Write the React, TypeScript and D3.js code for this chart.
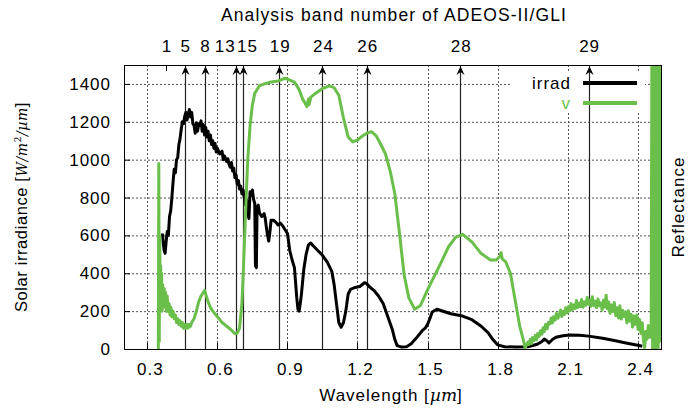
import React, { useEffect, useRef } from "react";
import * as d3 from "d3";

const width = 689;
const height = 411;
const margin = { top: 65, right: 28, bottom: 62, left: 124 };

const xTicks = [0.3, 0.6, 0.9, 1.2, 1.5, 1.8, 2.1, 2.4];
const yTicks = [0, 200, 400, 600, 800, 1000, 1200, 1400];

// GLI analysis bands: number and centre wavelength [um]
const bandNumbers = [1, 5, 8, 13, 15, 19, 24, 26, 28, 29];
const bandWavelengths = [0.38, 0.46, 0.545, 0.678, 0.71, 0.865, 1.05, 1.24, 1.64, 2.19];

// solar irradiance [W/m2/um]
const irrad: [number, number][] = [
  [0.365, 610], [0.368, 560], [0.372, 520], [0.376, 505], [0.38, 560], [0.385, 620], [0.39, 600],
  [0.395, 700], [0.4, 730], [0.405, 800], [0.41, 880], [0.415, 950], [0.42, 930], [0.425, 1000],
  [0.43, 1010], [0.435, 1080], [0.44, 1110], [0.445, 1160], [0.45, 1200], [0.455, 1190], [0.46, 1230],
  [0.465, 1250], [0.47, 1210], [0.475, 1240], [0.48, 1265], [0.485, 1225], [0.49, 1250], [0.495, 1190],
  [0.5, 1180], [0.505, 1140], [0.51, 1195], [0.515, 1150], [0.52, 1190], [0.525, 1180], [0.53, 1205],
  [0.535, 1150], [0.54, 1185], [0.545, 1130], [0.55, 1170], [0.555, 1120], [0.56, 1150], [0.565, 1100],
  [0.57, 1130], [0.575, 1080], [0.58, 1100], [0.585, 1060], [0.59, 1085], [0.595, 1040], [0.6, 1060],
  [0.61, 1030], [0.62, 1045], [0.625, 1000], [0.63, 1020], [0.64, 990], [0.645, 1005], [0.65, 975],
  [0.655, 960], [0.66, 985], [0.665, 940], [0.67, 955], [0.675, 905], [0.68, 920], [0.685, 870],
  [0.69, 890], [0.695, 845], [0.7, 860], [0.705, 820], [0.71, 840], [0.715, 800], [0.72, 760],
  [0.725, 790], [0.73, 720], [0.735, 690], [0.74, 830], [0.745, 810], [0.75, 840], [0.755, 790],
  [0.76, 770], [0.763, 440], [0.767, 430], [0.77, 750], [0.775, 760], [0.78, 720], [0.79, 700],
  [0.8, 715], [0.805, 690], [0.81, 640], [0.815, 600], [0.82, 570], [0.825, 620], [0.83, 680],
  [0.84, 680], [0.85, 670], [0.86, 655], [0.87, 665], [0.88, 650], [0.89, 630], [0.9, 610],
  [0.91, 520], [0.92, 470], [0.93, 430], [0.94, 270], [0.945, 210], [0.95, 200], [0.955, 240],
  [0.96, 290], [0.97, 420], [0.98, 500], [0.99, 550], [1.0, 560], [1.01, 545], [1.03, 520],
  [1.05, 495], [1.07, 460], [1.09, 410], [1.1, 340], [1.11, 240], [1.12, 140], [1.13, 115],
  [1.14, 140], [1.15, 200], [1.16, 290], [1.17, 315], [1.19, 325], [1.21, 330], [1.23, 350],
  [1.24, 345], [1.25, 330], [1.27, 310], [1.29, 280], [1.31, 240], [1.33, 170], [1.35, 100],
  [1.36, 50], [1.37, 18], [1.39, 10], [1.41, 12], [1.43, 28], [1.45, 55], [1.47, 85], [1.48, 100],
  [1.49, 110], [1.5, 130], [1.51, 160], [1.52, 195], [1.54, 210], [1.57, 198], [1.6, 186],
  [1.65, 174], [1.69, 155], [1.73, 120], [1.76, 85], [1.78, 50], [1.8, 22], [1.83, 12], [1.88, 10],
  [1.93, 12], [1.97, 25], [1.99, 40], [2.0, 52], [2.01, 45], [2.02, 32], [2.035, 50], [2.05, 62],
  [2.08, 70], [2.11, 74], [2.15, 72], [2.19, 68], [2.25, 57], [2.3, 45], [2.35, 32], [2.4, 20],
  [2.42, 15],
];

// vegetation reflectance "v" [%]
const reflect: [number, number][] = [
  [0.347, 0], [0.349, 49], [0.351, 2], [0.353, 30], [0.355, 12], [0.357, 22], [0.359, 14], [0.361, 20],
  [0.363, 10], [0.366, 17], [0.369, 12], [0.372, 16], [0.375, 11], [0.378, 15], [0.381, 10],
  [0.385, 14], [0.389, 10], [0.393, 12], [0.397, 9], [0.401, 11], [0.405, 8.5], [0.41, 10],
  [0.415, 8], [0.42, 9], [0.425, 7], [0.43, 8], [0.435, 6.5], [0.44, 7.5], [0.445, 6], [0.45, 7],
  [0.455, 5.5], [0.46, 6.5], [0.465, 5.5], [0.47, 6.5], [0.475, 5.5], [0.48, 6.5], [0.485, 6],
  [0.49, 7], [0.5, 8], [0.51, 10], [0.52, 12.5], [0.53, 14], [0.54, 15], [0.545, 15.5], [0.55, 14.5],
  [0.56, 12.5], [0.57, 11], [0.58, 10], [0.6, 8.5], [0.62, 7], [0.64, 6], [0.66, 5], [0.675, 4],
  [0.685, 4.2], [0.695, 5.5], [0.705, 12], [0.712, 22], [0.72, 35], [0.73, 50], [0.74, 59],
  [0.75, 64.5], [0.76, 67.5], [0.78, 69.5], [0.8, 70], [0.83, 70.5], [0.86, 70.8], [0.89, 71.5],
  [0.91, 71], [0.93, 70.5], [0.95, 68.5], [0.965, 66], [0.975, 65], [0.983, 64], [0.99, 66],
  [0.993, 64.5], [1.0, 66.5], [1.02, 67.5], [1.05, 68.8], [1.08, 69.5], [1.1, 69], [1.12, 67],
  [1.14, 61], [1.16, 56], [1.18, 54.7], [1.2, 55.2], [1.22, 56.2], [1.24, 57], [1.26, 57.4],
  [1.28, 56.3], [1.3, 54], [1.32, 51.5], [1.34, 47], [1.36, 41], [1.38, 30.5], [1.4, 19.5],
  [1.42, 13.5], [1.445, 10.5], [1.47, 11.5], [1.5, 15.6], [1.55, 21.8], [1.59, 27], [1.62, 29.5],
  [1.65, 30.3], [1.69, 28.3], [1.73, 25.2], [1.77, 23.5], [1.795, 23.5], [1.81, 24.5], [1.815, 25.5],
  [1.82, 23.8], [1.835, 23], [1.855, 20], [1.875, 13], [1.895, 6], [1.91, 2.5], [1.918, 0.3],
  [1.93, 1.8], [1.935, 1.2], [1.94, 2.6], [1.945, 1.4], [1.95, 3.0], [1.956, 2.2], [1.962, 3.6],
  [1.967, 2.4], [1.972, 4.1], [1.978, 3.3], [1.984, 4.8], [1.99, 3.9], [1.995, 5.6], [2.0, 4.6],
  [2.006, 6.5], [2.012, 5.3], [2.018, 7.0], [2.024, 6.6], [2.03, 8.2], [2.035, 6.9], [2.04, 8.5],
  [2.046, 7.6], [2.052, 9.4], [2.058, 8.1], [2.064, 9.0], [2.07, 10.3], [2.075, 8.6], [2.08, 9.9],
  [2.086, 9.1], [2.092, 10.9], [2.098, 9.5], [2.104, 11.2], [2.11, 10.1], [2.115, 12.0], [2.12, 10.4],
  [2.126, 11.6], [2.132, 10.7], [2.138, 12.8], [2.143, 10.9], [2.148, 12.1], [2.154, 11.2],
  [2.16, 13.1], [2.166, 11.0], [2.172, 12.4], [2.178, 11.6], [2.184, 13.6], [2.19, 11.8],
  [2.195, 12.9], [2.2, 11.3], [2.206, 13.8], [2.212, 11.5], [2.218, 12.6], [2.224, 10.9],
  [2.23, 13.2], [2.236, 11.4], [2.242, 12.2], [2.248, 10.3], [2.254, 12.9], [2.26, 11.1],
  [2.265, 14.2], [2.27, 10.6], [2.276, 12.4], [2.282, 9.4], [2.288, 11.6], [2.294, 9.9], [2.3, 12.3],
  [2.306, 8.8], [2.312, 10.9], [2.318, 8.2], [2.324, 11.4], [2.33, 7.9], [2.336, 10.2], [2.342, 8.6],
  [2.348, 9.8], [2.354, 6.9], [2.36, 10.1], [2.366, 7.4], [2.372, 9.2], [2.378, 5.8], [2.384, 8.7],
  [2.39, 6.5], [2.396, 9.0], [2.402, 5.2], [2.408, 7.8], [2.414, 4.1], [2.42, 6.9], [2.425, 2.2],
  [2.43, 0.4], [2.435, 4.6], [2.44, 2.6], [2.446, 6.2], [2.452, 3.1], [2.458, 6],
  [2.461, 80], [2.464, 0], [2.467, 80], [2.47, 2], [2.473, 80], [2.476, 0], [2.479, 80], [2.482, 1],
  [2.485, 80], [2.488, 0], [2.491, 80], [2.494, 2], [2.497, 80], [2.5, 80],
];

const seriesNames = ["irrad", "v"];
const seriesColors = ["#000000", "#6abf4b"];

const font = "'Liberation Sans', Arial, sans-serif";

export default function App() {
  const ref = useRef<SVGSVGElement | null>(null);

  useEffect(() => {
    const svg = d3.select(ref.current);
    svg.selectAll("*").remove();

    const x0 = margin.left;
    const x1 = width - margin.right;
    const y0 = height - margin.bottom;
    const y1 = margin.top;

    const x = d3.scaleLinear().domain([0.2, 2.5]).range([x0, x1]);
    const y = d3.scaleLinear().domain([0, 1500]).range([y0, y1]);
    const yR = d3.scaleLinear().domain([0, 75]).range([y0, y1]);

    svg.append("defs").append("clipPath").attr("id", "plotclip")
      .append("rect").attr("x", x0).attr("y", y1).attr("width", x1 - x0).attr("height", y0 - y1);

    // grid
    const grid = svg.append("g").attr("stroke", "#555").attr("stroke-width", 1).attr("stroke-dasharray", "2,2");
    grid.selectAll("line.h").data(yTicks.filter((d) => d > 0)).enter().append("line")
      .attr("x1", x0).attr("x2", x1)
      .attr("y1", (d) => y(d) + 0.5).attr("y2", (d) => y(d) + 0.5);
    grid.selectAll("line.v").data(xTicks).enter().append("line")
      .attr("y1", y1).attr("y2", y0)
      .attr("x1", (d) => Math.round(x(d)) + 0.5).attr("x2", (d) => Math.round(x(d)) + 0.5);

    // legend background
    svg.append("rect").attr("x", 512).attr("y", 71).attr("width", 133).attr("height", 42).attr("fill", "#fff");

    // ticks
    const ticks = svg.append("g").attr("stroke", "#000").attr("stroke-width", 1);
    yTicks.forEach((d) => {
      ticks.append("line").attr("x1", x0).attr("x2", x0 + 6).attr("y1", y(d) + 0.5).attr("y2", y(d) + 0.5);
    });
    xTicks.forEach((d) => {
      const xx = Math.round(x(d)) + 0.5;
      ticks.append("line").attr("x1", xx).attr("x2", xx).attr("y1", y0).attr("y2", y0 - 6);
    });
    bandWavelengths.forEach((d) => {
      const xx = Math.round(x(d)) + 0.5;
      ticks.append("line").attr("x1", xx).attr("x2", xx).attr("y1", y1).attr("y2", y1 + 6);
    });

    // band arrows (band 1 only has a tick)
    const arrows = svg.append("g");
    bandWavelengths.forEach((d, i) => {
      if (bandNumbers[i] === 1) return;
      const xx = Math.round(x(d)) + 0.5;
      arrows.append("line").attr("x1", xx).attr("x2", xx).attr("y1", y0).attr("y2", y1 + 4)
        .attr("stroke", "#222").attr("stroke-width", 1.2);
      arrows.append("path")
        .attr("d", `M${xx},${y1 + 1} L${xx - 4},${y1 + 10} L${xx},${y1 + 7} L${xx + 4},${y1 + 10} Z`)
        .attr("fill", "#000");
    });

    // data lines
    const plot = svg.append("g").attr("clip-path", "url(#plotclip)");
    const lineIrr = d3.line<[number, number]>().x((d) => x(d[0])).y((d) => y(d[1]));
    const lineRef = d3.line<[number, number]>().x((d) => x(d[0])).y((d) => yR(d[1]));
    plot.append("path").datum(irrad).attr("d", lineIrr).attr("fill", "none")
      .attr("stroke", seriesColors[0]).attr("stroke-width", 3).attr("stroke-linejoin", "round");
    plot.append("path").datum(reflect).attr("d", lineRef).attr("fill", "none")
      .attr("stroke", seriesColors[1]).attr("stroke-width", 3).attr("stroke-linejoin", "round");

    // frame
    svg.append("rect").attr("x", x0 + 0.5).attr("y", y1 + 0.5).attr("width", x1 - x0).attr("height", y0 - y1)
      .attr("fill", "none").attr("stroke", "#000").attr("stroke-width", 1);

    // legend
    const leg = svg.append("g").attr("font-family", font).attr("font-size", 17).attr("letter-spacing", 1);
    seriesNames.forEach((name, i) => {
      const ly = 83 + i * 20;
      leg.append("text").attr("x", 571).attr("y", ly + 6).attr("text-anchor", "end")
        .attr("fill", i === 0 ? "#000" : seriesColors[1]).text(name);
      leg.append("line").attr("x1", 583).attr("x2", 637).attr("y1", ly).attr("y2", ly)
        .attr("stroke", seriesColors[i]).attr("stroke-width", 4);
    });

    // labels
    const txt = svg.append("g").attr("font-family", font).attr("font-size", 17)
      .attr("letter-spacing", 1).attr("fill", "#000");
    yTicks.forEach((d) => {
      txt.append("text").attr("x", 111).attr("y", y(d) + 6).attr("text-anchor", "end").text(d);
    });
    xTicks.forEach((d) => {
      txt.append("text").attr("x", x(d) + 3).attr("y", y0 + 26).attr("text-anchor", "middle").text(d3.format(".1f")(d));
    });
    bandWavelengths.forEach((d, i) => {
      const n = bandNumbers[i];
      let anchor = "middle";
      let xx = x(d) + 1;
      if (n === 13) { anchor = "end"; xx = x(d); }
      if (n === 15) { anchor = "start"; xx = x(d) - 6; }
      txt.append("text").attr("x", xx).attr("y", 52).attr("text-anchor", anchor).text(n);
    });

    txt.append("text").attr("x", 394).attr("y", 21).attr("text-anchor", "middle")
      .attr("font-size", 17.5).attr("letter-spacing", 1.1)
      .text("Analysis band number of ADEOS-II/GLI");

    const xt = txt.append("text").attr("x", 391).attr("y", 401).attr("text-anchor", "middle");
    xt.append("tspan").text("Wavelength [");
    xt.append("tspan").attr("font-family", "'DejaVu Serif', serif").attr("font-style", "italic")
      .attr("letter-spacing", 0).text("µm");
    xt.append("tspan").text("]");

    const yt = txt.append("text").attr("transform", `translate(27,${(y0 + y1) / 2}) rotate(-90)`)
      .attr("text-anchor", "middle").attr("font-size", 16.5).attr("letter-spacing", 0.6);
    yt.append("tspan").text("Solar irradiance [");
    yt.append("tspan").attr("font-family", "'DejaVu Serif', serif").attr("font-style", "italic").attr("font-size", 14).text("W/m");
    yt.append("tspan").attr("font-family", "'DejaVu Serif', serif").attr("font-size", 9).attr("dy", -6).text("2");
    yt.append("tspan").attr("font-family", "'DejaVu Serif', serif").attr("font-style", "italic").attr("font-size", 14).attr("dy", 6).text("/µm");
    yt.append("tspan").text("]");

    txt.append("text").attr("transform", `translate(684,${(y0 + y1) / 2}) rotate(-90)`)
      .attr("text-anchor", "middle").text("Reflectance");
  }, []);

  return (
    <svg
      ref={ref}
      width={width}
      height={height}
      style={{ position: "absolute", left: 0, top: 0, background: "#fff" }}
    />
  );
}
